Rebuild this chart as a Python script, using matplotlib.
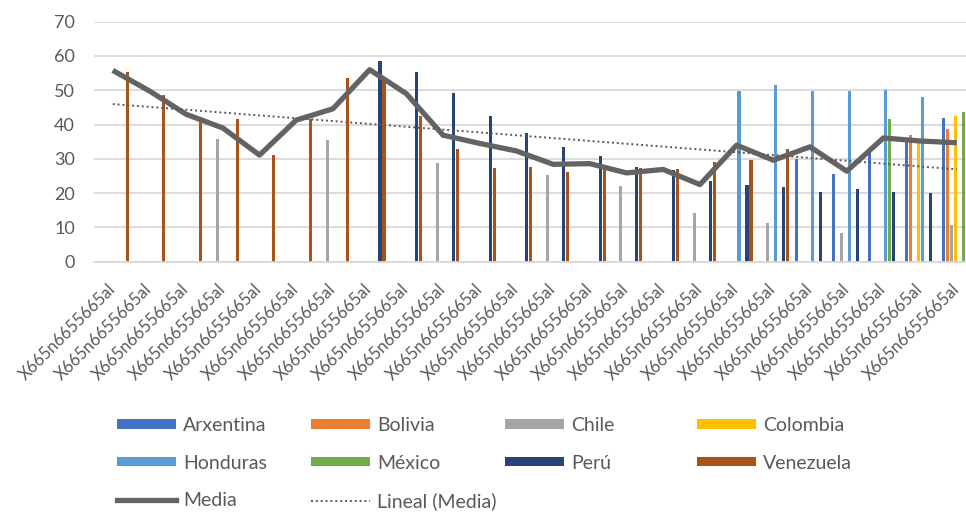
import numpy as np
import matplotlib
matplotlib.use("Agg")
import matplotlib.pyplot as plt
from matplotlib.patches import Patch
from matplotlib.lines import Line2D

plt.rcParams['font.family'] = ['Lato', 'DejaVu Sans']

nan = np.nan
categories = ["X665n6655665al"] * 24

arxentina = [nan]*19 + [30.1, 25.7, 32.0, 35.0, 41.9]
bolivia   = [nan]*22 + [36.9, 38.6]
chile     = [nan, nan, nan, 35.9, nan, nan, 35.4, nan, nan, 28.9, nan, nan,
             25.2, nan, 22.0, nan, 14.1, nan, 11.2, nan, 8.4, nan, nan, 10.7]
colombia  = [nan]*22 + [34.5, 42.4]
honduras  = [nan]*17 + [49.8, 51.5, 49.8, 49.8, 50.2, 47.9, nan]
mexico    = [nan]*21 + [41.7, nan, 43.6]
peru      = [nan]*7 + [58.5, 55.3, 49.2, 42.4, 37.4, 33.5, 30.9, 27.5, 26.7,
                       23.6, 22.3, 21.7, 20.2, 21.2, 20.2, 20.1, 29.6]
venezuela = [55.3, 48.5, 42.2, 41.5, 31.1, 41.5, 53.6, 53.0, 42.4, 33.0, 27.2,
             27.7, 26.2, 26.7, 27.2, 26.9, 29.1, 29.6, 33.0, nan, nan, nan, nan, nan]
media     = [55.8, 49.8, 43.0, 39.0, 31.1, 41.3, 44.6, 56.0, 49.0, 36.9, 34.5,
             32.3, 28.4, 28.6, 25.9, 26.9, 22.5, 34.0, 29.6, 33.5, 26.4, 36.1,
             35.2, 34.7]

series_names = ["Arxentina", "Bolivia", "Chile", "Colombia",
                "Honduras", "México", "Perú", "Venezuela"]
series_vals = [arxentina, bolivia, chile, colombia, honduras, mexico, peru, venezuela]
colors = ["#4472C4", "#ED7D31", "#A5A5A5", "#FFC000",
          "#5B9BD5", "#70AD47", "#264478", "#A9531A"]
media_color = "#636363"
text_color = "#595959"
grid_color = "#D9D9D9"

W, H = 966, 514
fig = plt.figure(figsize=(W/100, H/100), dpi=100)
left_px, right_px = 94.4, 975.2
y0_px, y70_px = 261.7, 21.7
ax = fig.add_axes([left_px/W, (H - y0_px)/H, (right_px - left_px)/W, (y0_px - y70_px)/H])

n = len(categories)
x = np.arange(n)
slot = 4.0 / 36.7
bw = 0.085
for k, (name, vals, col) in enumerate(zip(series_names, series_vals, colors)):
    ax.bar(x + (k - 3.5) * slot + 0.01, vals, width=bw, color=col, label=name, zorder=2)

ax.plot(x, media, color=media_color, lw=3.8, solid_joinstyle='round',
        solid_capstyle='butt', zorder=4)
coef = np.polyfit(x, media, 1)
ax.plot(x, np.polyval(coef, x), color=text_color, lw=1.4,
        linestyle=(0, (1, 1.5)), zorder=5)

ax.set_xlim(-0.5, n - 0.5)
ax.set_ylim(0, 70)
ax.set_yticks(range(0, 71, 10))
ax.yaxis.grid(True, color=grid_color, lw=1.3, zorder=0)
ax.set_axisbelow(True)
for s in ["left", "right", "top"]:
    ax.spines[s].set_visible(False)
ax.spines["bottom"].set_color(grid_color)
ax.spines["bottom"].set_linewidth(1.3)
ax.tick_params(axis='y', length=0, pad=14, labelsize=13, labelcolor=text_color)
ax.tick_params(axis='x', length=0, pad=18, labelsize=12, labelcolor=text_color)
ax.set_xticks(x)
ax.set_xticklabels(categories, rotation=45, ha='right', va='center',
                   rotation_mode='anchor')

# legend: four columns like the original
bar_handles = [Patch(facecolor=c, edgecolor='none') for c in colors]
media_handle = Line2D([0], [0], color=media_color, lw=3.8)
trend_handle = Line2D([0], [0], color=text_color, lw=1.4, linestyle=(0, (1, 1.5)))
columns = [
    ([bar_handles[0], bar_handles[4], media_handle], ["Arxentina", "Honduras", "Media"], 117),
    ([bar_handles[1], bar_handles[5], trend_handle], ["Bolivia", "México", "Lineal (Media)"], 311),
    ([bar_handles[2], bar_handles[6]], ["Chile", "Perú"], 505),
    ([bar_handles[3], bar_handles[7]], ["Colombia", "Venezuela"], 697),
]
for hs, ls, xpx in columns:
    fig.legend(handles=hs, labels=ls, loc='upper left',
               bbox_to_anchor=(xpx / W, 1 - 417 / H), bbox_transform=fig.transFigure,
               frameon=False, borderpad=0, borderaxespad=0, handlelength=3.05,
               handleheight=0.38, handletextpad=0.35, labelspacing=1.06,
               fontsize=14, labelcolor=text_color)

fig.savefig("out.png", dpi=100)
